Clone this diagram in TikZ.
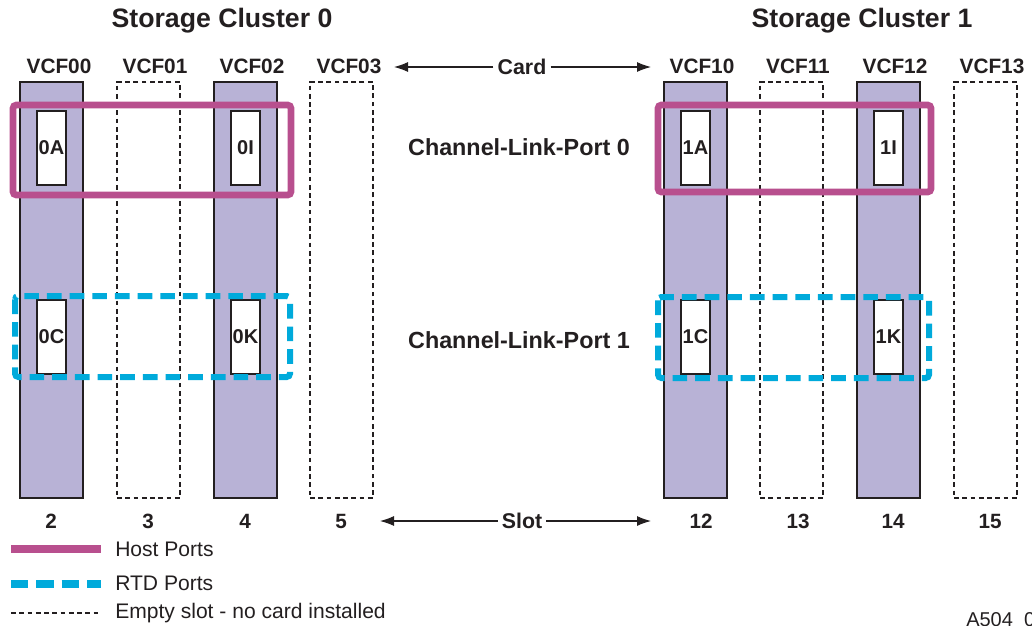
\documentclass[tikz,border=0pt]{standalone}
\usepackage{fontspec}
\setmainfont{Liberation Sans}
\usetikzlibrary{arrows.meta}
\definecolor{cardfill}{RGB}{184,178,214}
\definecolor{hostpink}{RGB}{184,79,142}
\definecolor{rtdblue}{RGB}{0,170,219}
\definecolor{ink}{RGB}{35,31,32}

\tikzset{
  card/.style={draw=ink, fill=cardfill, line width=0.8pt, minimum width=47.25pt, minimum height=312pt, inner sep=0pt},
  empty/.style={draw=ink, line width=0.8pt, dash pattern=on 3.6pt off 2.6pt, minimum width=47.25pt, minimum height=312pt, inner sep=0pt},
  port/.style={draw=ink, fill=white, line width=0.8pt, minimum width=21.75pt, minimum height=55.5pt, inner sep=0pt, text=ink, font=\bfseries\fontsize{15}{17}\selectfont},
  title/.style={text=ink, font=\bfseries\fontsize{20}{24}\selectfont},
  vcf/.style={text=ink, font=\bfseries\fontsize{15.6}{18}\selectfont},
  slotnum/.style={text=ink, font=\bfseries\fontsize{15.5}{18}\selectfont},
  linklabel/.style={text=ink, font=\bfseries\fontsize{17.5}{20}\selectfont},
  dimlabel/.style={text=ink, font=\bfseries\fontsize{16}{19}\selectfont, inner sep=3pt},
  legend/.style={text=ink, anchor=west, inner sep=0pt, font=\fontsize{15.8}{18}\selectfont},
  hostbox/.style={draw=hostpink, line width=5pt, rounded corners=2.5pt},
  rtdbox/.style={draw=rtdblue, line width=4.5pt, rounded corners=2.5pt, dash pattern=on 11pt off 6pt},
  dimarrow/.style={draw=ink, line width=0.8pt, -{Latex[length=10.5pt,width=7.5pt]}}
}

\begin{document}
\begin{tikzpicture}[x=0.75pt, y=-0.75pt]
  \useasboundingbox (0,0) rectangle (1032,625);

  % titles
  \node[title] (sc0) at (222,21) {Storage Cluster 0};
  \node[title] (sc1) at (862,21) {Storage Cluster 1};

  % slots with cards or empty
  \foreach \x/\lx/\sx/\name/\slot/\kind in {51.5/59/51/VCF00/2/card,
      148.5/155/148/VCF01/3/empty, 245.5/252/245/VCF02/4/card,
      341.5/349/341/VCF03/5/empty, 695.5/702/701/VCF10/12/card,
      791.5/798/798/VCF11/13/empty, 888.5/895/893/VCF12/14/card,
      985.5/992/990/VCF13/15/empty}{
    \node[\kind] (\name) at (\x,290) {};
    \node[vcf] (\name-lbl) at (\lx,66) {\name};
    \node[slotnum] (slot\slot) at (\sx,521) {\slot};
  }

  % ports
  \node[port] (p0A) at (51.5,148) {0A};
  \node[port] (p0I) at (245.5,148) {0I};
  \node[port] (p1A) at (695.5,148) {1A};
  \node[port] (p1I) at (888.5,148) {1I};
  \node[port] (p0C) at (51.5,337) {0C};
  \node[port] (p0K) at (245.5,337) {0K};
  \node[port] (p1C) at (695.5,337) {1C};
  \node[port] (p1K) at (888.5,337) {1K};

  % channel link ports
  \draw[hostbox] (13,105) rectangle (291,195);
  \draw[hostbox] (658,105) rectangle (931,192);
  \draw[rtdbox] (15,296) rectangle (290,377);
  \draw[rtdbox] (658,297) rectangle (929,378);
  \node[linklabel] (clp0) at (519,147) {Channel-Link-Port 0};
  \node[linklabel] (clp1) at (519,340) {Channel-Link-Port 1};

  % card and slot arrows
  \node[dimlabel] (cardlbl) at (522,67) {Card};
  \coordinate (cardL) at (394,67);
  \coordinate (cardR) at (651,67);
  \draw[dimarrow] (cardlbl.west) -- (cardL);
  \draw[dimarrow] (cardlbl.east) -- (cardR);
  \node[dimlabel] (slotlbl) at (522,521) {Slot};
  \coordinate (slotL) at (380,521);
  \coordinate (slotR) at (651,521);
  \draw[dimarrow] (slotlbl.west) -- (slotL);
  \draw[dimarrow] (slotlbl.east) -- (slotR);

  % legend
  \node[legend] (hostlg) at (115,549) {Host Ports};
  \node[legend] (rtdlg) at (115,583) {RTD Ports};
  \node[legend] (emptylg) at (115,613) {Empty slot - no card installed};
  \draw[draw=hostpink, line width=5.5pt] (11,549) -- (101,549);
  \draw[draw=rtdblue, line width=5.5pt, dash pattern=on 13pt off 6pt] (11,584) -- (101,584);
  \draw[draw=ink, line width=0.8pt, dash pattern=on 3.6pt off 2.6pt] (11,613) -- (101,613);

  \node[text=ink, anchor=west, inner sep=0pt, font=\fontsize{15}{17}\selectfont] (fignum) at (966,621) {A504\_07};
\end{tikzpicture}
\end{document}
